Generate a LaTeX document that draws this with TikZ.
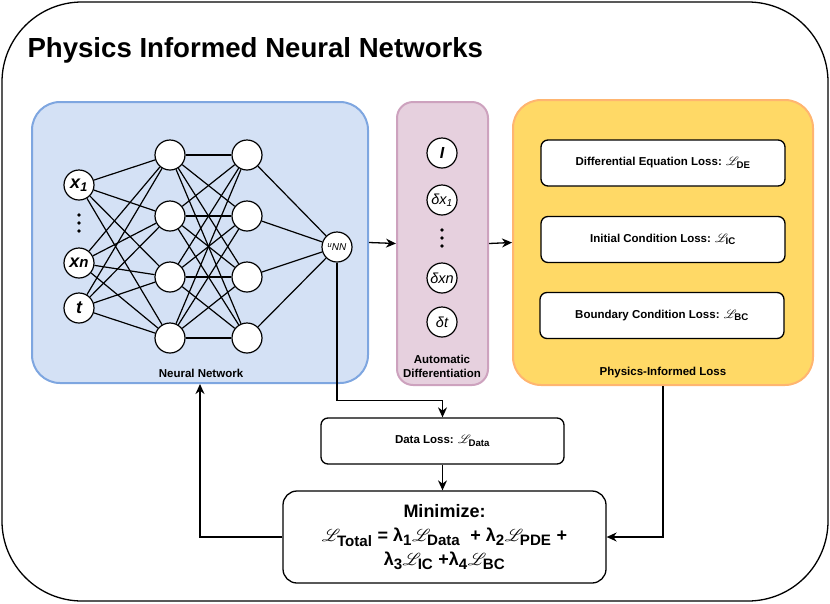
\documentclass[tikz,border=0pt]{standalone}
\usepackage{amsmath,mathrsfs}
\usepackage{fontspec}
\setmainfont{Liberation Sans}
\usetikzlibrary{arrows.meta,positioning}

\definecolor{nnfill}{HTML}{D4E1F5}
\definecolor{nnline}{HTML}{7EA6E0}
\definecolor{adfill}{HTML}{E6D0DE}
\definecolor{adline}{HTML}{CDA2BE}
\definecolor{pifill}{HTML}{FFD966}
\definecolor{piline}{HTML}{FFB570}

% loss symbol with a larger subscript
\newcommand{\Lterm}[1]{$\mathscr{L}_{\text{\scalebox{1.2}{#1}}}$}
\newcommand{\bigsub}[1]{\textsubscript{\scalebox{1.2}{#1}}}

\begin{document}
\begin{tikzpicture}[x=1pt,y=-1pt,
  neuron/.style={circle,draw,fill=white,line width=1.2pt,minimum size=30,inner sep=0pt},
  conn/.style={line width=1.2pt},
  dot/.style={circle,fill,inner sep=0pt,minimum size=3.6},
  group/.style={draw,rounded corners=28,line width=2pt,inner sep=0pt},
  lossbox/.style={draw,fill=white,rounded corners=7,line width=1.3pt,minimum width=244,minimum height=46,font=\bfseries\fontsize{11.5}{13}\selectfont},
  arr/.style={line width=1.3pt,-{Stealth[length=10pt,width=9pt]}},
  lbl/.style={font=\bfseries\fontsize{11.5}{14}\selectfont,align=center}]

\useasboundingbox (0,0) rectangle (830,603);

% Frame and title
\draw[line width=1.3pt,rounded corners=80] (2,2) rectangle (828,601);
\node[anchor=west,font=\bfseries\fontsize{27.6}{30}\selectfont] (title) at (24,50) {Physics Informed Neural Networks};

% Group boxes
\node[group,fill=nnfill,draw=nnline,minimum width=336,minimum height=281] (nnbox) at (200,242.5) {};
\node[group,fill=adfill,draw=adline,rounded corners=16,minimum width=91,minimum height=283] (adbox) at (442.5,243.5) {};
\node[group,fill=pifill,draw=piline,minimum width=300,minimum height=285] (pilbox) at (663,242.5) {};

% Network
\foreach \y [count=\i] in {155,216,277,338} {
  \node[neuron] (ha\i) at (170,\y) {};
  \node[neuron] (hb\i) at (247,\y) {};
}
\node[neuron,font=\bfseries\itshape\fontsize{18}{18}\selectfont] (x1) at (79,185) {x\textsubscript{1}};
\node[neuron,font=\bfseries\itshape\fontsize{18}{18}\selectfont] (xn) at (79,263) {x{\fontsize{15}{15}\selectfont n}};
\node[neuron,font=\bfseries\itshape\fontsize{18}{18}\selectfont] (tin) at (79,308) {t};
\node[neuron,font=\itshape] (unn) at (337,247) {\raisebox{3pt}{\fontsize{7.5}{8}\selectfont u}{\fontsize{10}{10}\selectfont NN}};
\foreach \y in {215,223,231}
  \node[dot] at (79,\y) {};

\foreach \a in {x1,xn,tin}
  \foreach \b in {1,...,4}
    \draw[conn] (\a) -- (ha\b);
\foreach \a in {1,...,4}
  \foreach \b in {1,...,4}
    \draw[conn] (ha\a) -- (hb\b);
\foreach \a in {1,...,4}
  \draw[conn] (hb\a) -- (unn);

% Automatic differentiation
\node[neuron,font=\bfseries\itshape\fontsize{16}{16}\selectfont] (adI) at (442,153) {I};
\node[neuron,font=\itshape\fontsize{14.5}{15}\selectfont] (adx1) at (442,200) {δx\textsubscript{1}};
\node[neuron,font=\itshape\fontsize{14.5}{15}\selectfont] (adxn) at (442,278) {δxn};
\node[neuron,font=\itshape\fontsize{14.5}{15}\selectfont] (adt) at (442,322) {δt};
\foreach \y in {230,238,246}
  \node[dot] at (442,\y) {};

% Labels
\node[lbl] (nnlabel) at (201,373) {Neural Network};
\node[lbl] (adlabel) at (442,366) {Automatic\\Differentiation};
\node[lbl] (pilabel) at (663,373) {Physics-Informed Loss};

% Loss terms
\node[lossbox] (deloss) at (663,163) {Differential Equation Loss: \Lterm{DE}};
\node[lossbox] (icloss) at (663,239.5) {Initial Condition Loss: \Lterm{IC}};
\node[lossbox] (bcloss) at (662,315.5) {Boundary Condition Loss: \Lterm{BC}};
\node[lossbox,minimum width=243] (dataloss) at (442.5,441) {Data Loss: \Lterm{Data}};

\node[draw,fill=white,rounded corners=14,line width=1.3pt,minimum width=323,minimum height=92,align=center,
  font=\bfseries\fontsize{18}{24}\selectfont] (minbox) at (444.5,537)
  {Minimize:\\
   \Lterm{Total} = λ\bigsub{1}\Lterm{Data}\ \ + λ\bigsub{2}\Lterm{PDE} +\\
   λ\bigsub{3}\Lterm{IC} +λ\bigsub{4}\Lterm{BC}};

% Arrows
\draw[arr] (nnbox.east) -- (adbox.west);
\draw[arr] (adbox.east) -- (pilbox.west);
\draw[arr] (unn.south) -- ++(0,138) -| (dataloss.north);
\draw[arr] (dataloss.south) -- (dataloss.south |- minbox.north);
\draw[arr] (pilbox.south) |- (minbox.east);
\draw[arr] (minbox.west) -| (nnbox.south);

\end{tikzpicture}
\end{document}
